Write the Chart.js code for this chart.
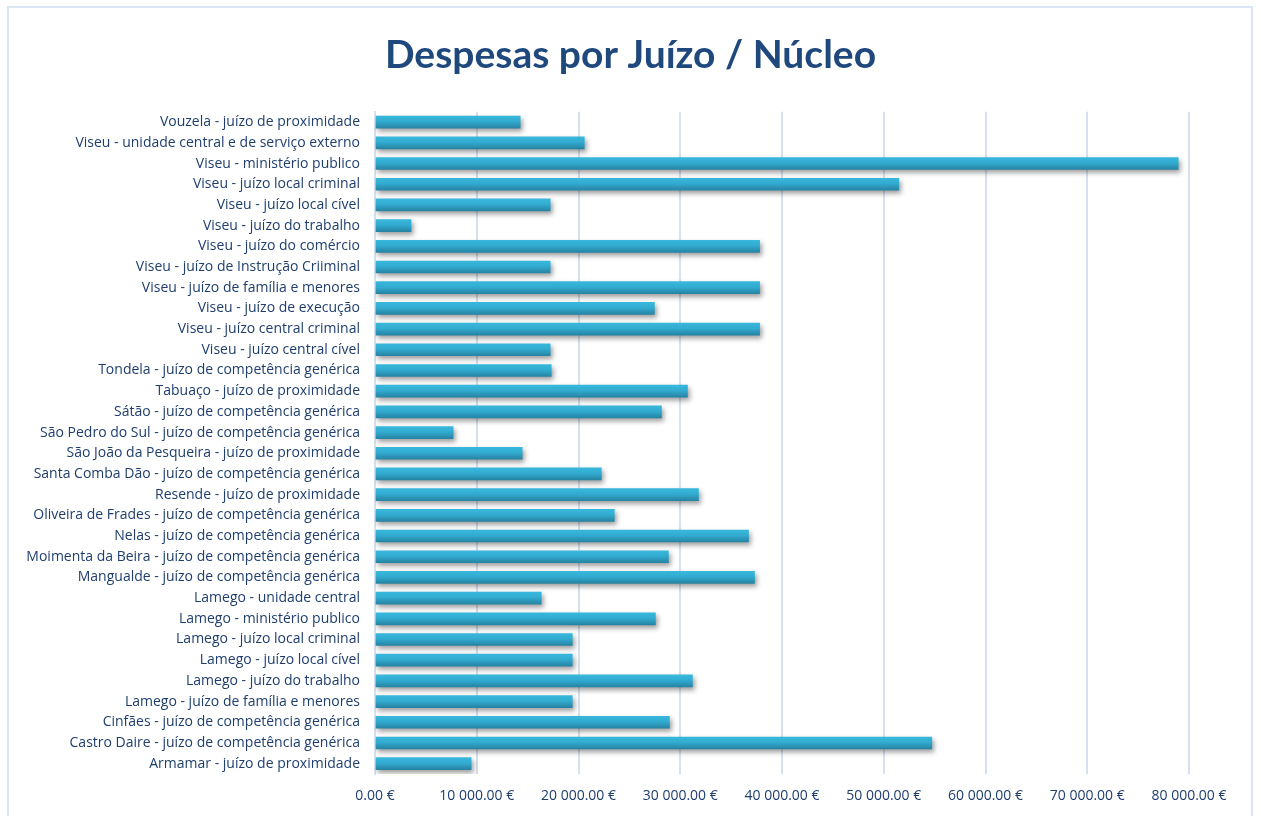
<!DOCTYPE html>
<html>
<head>
<meta charset="utf-8">
<script src="https://cdn.jsdelivr.net/npm/chart.js@4/dist/chart.umd.min.js"></script>
<style>
  html, body { margin: 0; padding: 0; background: #fff; }
  #wrap { position: absolute; left: 0; top: 0; width: 1261px; height: 816px; }
  #frame { position: absolute; left: 7px; top: 6px; width: 1246px; height: 820px; border: 2px solid #dbe5f3; box-sizing: border-box; }
</style>
</head>
<body>
<div id="wrap">
  <div id="frame"></div>
  <canvas id="despesasChart" width="1261" height="816"></canvas>
</div>
<script>
const labels = [
    'Vouzela - juízo de proximidade',
    'Viseu - unidade central e de serviço externo',
    'Viseu - ministério publico',
    'Viseu - juízo local criminal',
    'Viseu - juízo local cível',
    'Viseu - juízo do trabalho',
    'Viseu - juízo do comércio',
    'Viseu - juízo de Instrução Criiminal',
    'Viseu - juízo de família e menores',
    'Viseu - juízo de execução',
    'Viseu - juízo central criminal',
    'Viseu - juízo central cível',
    'Tondela - juízo de competência genérica',
    'Tabuaço - juízo de proximidade',
    'Sátão - juízo de competência genérica',
    'São Pedro do Sul - juízo de competência genérica',
    'São João da Pesqueira - juízo de proximidade',
    'Santa Comba Dão - juízo de competência genérica',
    'Resende - juízo de proximidade',
    'Oliveira de Frades - juízo de competência genérica',
    'Nelas - juízo de competência genérica',
    'Moimenta da Beira - juízo de competência genérica',
    'Mangualde - juízo de competência genérica',
    'Lamego - unidade central',
    'Lamego - ministério publico',
    'Lamego - juízo local criminal',
    'Lamego - juízo local cível',
    'Lamego - juízo do trabalho',
    'Lamego - juízo de família e menores',
    'Cinfães - juízo de competência genérica',
    'Castro Daire - juízo de competência genérica',
    'Armamar - juízo de proximidade',
];

const despesas = [
    14270, 20570, 78940, 51480, 17220, 3540, 37800, 17220,
    37800, 27460, 37800, 17220, 17320, 30710, 28150, 7680,
    14470, 22240, 31790, 23520, 36710, 28840, 37300, 16340,
    27560, 19390, 19390, 31200, 19390, 28940, 54720, 9450,
];

const xMax = 80000;
const xStep = 10000;

const fmtEuro = (v) => {
    const [int, dec] = Number(v).toFixed(2).split('.');
    return int.replace(/\B(?=(\d{3})+(?!\d))/g, ' ') + '.' + dec + ' €';
};

const BAR_H = 12;

// vertical gradient per bar (Excel-like look)
const barGradient = (c) => {
    const yScale = c.chart.scales.y;
    if (!yScale || c.type !== 'data') return '#32acd0';
    const mid = yScale.getPixelForValue(c.dataIndex);
    if (!Number.isFinite(mid)) return '#32acd0';
    const g = c.chart.ctx.createLinearGradient(0, mid - BAR_H / 2, 0, mid + BAR_H / 2);
    g.addColorStop(0, '#38b8dc');
    g.addColorStop(0.45, '#32abd0');
    g.addColorStop(1, '#2684a4');
    return g;
};

// soft drop shadow under the bars
const barShadow = {
    id: 'barShadow',
    beforeDatasetsDraw(chart) {
        const { ctx } = chart;
        ctx.save();
        ctx.shadowColor = 'rgba(0, 0, 0, 0.38)';
        ctx.shadowBlur = 5;
        ctx.shadowOffsetX = 2;
        ctx.shadowOffsetY = 3;
    },
    afterDatasetsDraw(chart) {
        chart.ctx.restore();
    },
};

const FONT = '"Open Sans", Lato, sans-serif';

new Chart(document.getElementById('despesasChart'), {
    type: 'bar',
    data: {
        labels,
        datasets: [{
            data: despesas,
            backgroundColor: barGradient,
            borderWidth: 0,
            barThickness: BAR_H,
        }],
    },
    plugins: [barShadow],
    options: {
        indexAxis: 'y',
        responsive: false,
        animation: false,
        layout: { padding: { top: 12, right: 10, left: 10, bottom: 0 } },
        plugins: {
            legend: { display: false },
            tooltip: { enabled: false },
            title: {
                display: true,
                text: 'Despesas por Juízo / Núcleo',
                color: '#1f497d',
                font: { family: 'Lato, "Open Sans", sans-serif', size: 39, weight: 'bold' },
                padding: { top: 20, bottom: 33 },
            },
        },
        scales: {
            x: {
                min: 0,
                max: xMax,
                ticks: {
                    stepSize: xStep,
                    callback: (v) => fmtEuro(v),
                    color: '#1f3e6e',
                    font: { family: FONT, size: 14 },
                    padding: 14,
                    maxRotation: 0,
                },
                grid: { color: '#d5e0f0', lineWidth: 2, drawTicks: false },
                border: { display: false },
                afterFit: (scale) => { scale.height = 42; },
            },
            y: {
                ticks: {
                    autoSkip: false,
                    color: '#1f3e6e',
                    font: { family: FONT, size: 14 },
                    padding: 15,
                },
                grid: { display: false, drawTicks: false },
                border: { display: true, color: '#d5e0f0', width: 2 },
                afterFit: (scale) => { scale.width = 365; },
            },
            // empty spacer on the right so the plot ends at 80 000 €
            ySpacer: {
                type: 'category',
                position: 'right',
                ticks: { display: false },
                grid: { display: false, drawTicks: false },
                border: { display: false },
                afterFit: (scale) => { scale.width = 62; },
            },
        },
    },
});
</script>
</body>
</html>
